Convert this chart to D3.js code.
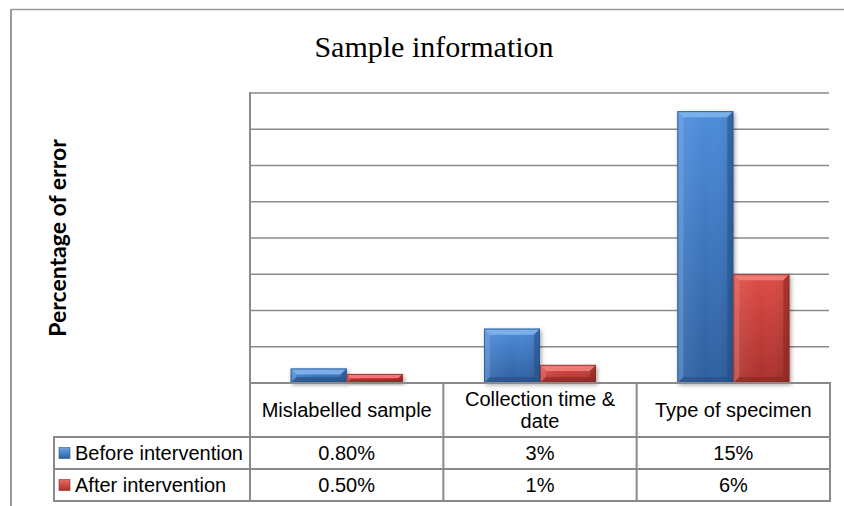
<!DOCTYPE html>
<html>
<head>
<meta charset="utf-8">
<script src="https://cdn.jsdelivr.net/npm/d3@7"></script>
<style>
  html, body { margin: 0; padding: 0; background: #fff; }
  svg { display: block; }
</style>
</head>
<body>
<svg id="chart" width="844" height="506"></svg>
<script>
// ---- data ----
const categories = ["Mislabelled sample", "Collection time & date", "Type of specimen"];
const categoryLines = [["Mislabelled sample"], ["Collection time &", "date"], ["Type of specimen"]];
const seriesNames = ["Before intervention", "After intervention"];
const beforeValues = [0.8, 3, 15];
const afterValues = [0.5, 1, 6];
const beforeLabels = ["0.80%", "3%", "15%"];
const afterLabels = ["0.50%", "1%", "6%"];
const yDomain = [0, 16];
const titleText = "Sample information";
const yTitleText = "Percentage of error";

const series = [
  { name: seriesNames[0], values: beforeValues, labels: beforeLabels, key: "blue" },
  { name: seriesNames[1], values: afterValues, labels: afterLabels, key: "red" }
];

// ---- layout ----
const W = 844, H = 506;
const plot = { left: 250, right: 830, top: 93, bottom: 383 };
const rows = { header: 437, r1: 469, r2: 501, tableLeft: 54 };
const gridColor = "#8a8a8a";
const fontSans = "'Liberation Sans', Arial, sans-serif";

const svg = d3.select("#chart");

const defs = svg.append("defs");
const palette = {
  blue: { top: "#4d8ddc", bottom: "#2d5f9f", light: "#82b5f0", dark: "#244f86", edge: "#2a5489", key: ["#6ea4e3", "#2d5f9f"] },
  red:  { top: "#de4c46", bottom: "#a8302c", light: "#f2837e", dark: "#8a2522", edge: "#8e2a27", key: ["#ea6b66", "#a8302c"] }
};
Object.entries(palette).forEach(([k, p]) => {
  const g = defs.append("linearGradient").attr("id", "grad-" + k)
    .attr("x1", 0).attr("y1", 0).attr("x2", 0).attr("y2", 1);
  g.append("stop").attr("offset", "0%").attr("stop-color", p.top);
  g.append("stop").attr("offset", "100%").attr("stop-color", p.bottom);
  const gh = defs.append("linearGradient").attr("id", "hgrad-" + k)
    .attr("x1", 0).attr("y1", 0).attr("x2", 1).attr("y2", 0);
  gh.append("stop").attr("offset", "0%").attr("stop-color", "#ffffff").attr("stop-opacity", 0.10);
  gh.append("stop").attr("offset", "50%").attr("stop-color", "#ffffff").attr("stop-opacity", 0.0);
  gh.append("stop").attr("offset", "100%").attr("stop-color", "#000000").attr("stop-opacity", 0.10);
  const kg = defs.append("linearGradient").attr("id", "kgrad-" + k)
    .attr("x1", 0).attr("y1", 0).attr("x2", 0).attr("y2", 1);
  kg.append("stop").attr("offset", "0%").attr("stop-color", p.key[0]);
  kg.append("stop").attr("offset", "100%").attr("stop-color", p.key[1]);
});
const shadow = defs.append("filter").attr("id", "shadow")
  .attr("x", "-20%").attr("y", "-20%").attr("width", "150%").attr("height", "150%");
shadow.append("feDropShadow").attr("dx", 1.5).attr("dy", 2).attr("stdDeviation", 2)
  .attr("flood-color", "#000").attr("flood-opacity", 0.35);

// outer chart border (top + left)
svg.append("line").attr("x1", 11).attr("x2", W).attr("y1", 9.5).attr("y2", 9.5)
  .attr("stroke", "#9a9a9a").attr("stroke-width", 1.5);
svg.append("line").attr("x1", 11).attr("x2", 11).attr("y1", 9).attr("y2", H)
  .attr("stroke", "#9a9a9a").attr("stroke-width", 2);

// title
svg.append("text").attr("x", 434).attr("y", 57)
  .attr("text-anchor", "middle")
  .attr("font-family", "'Liberation Serif', 'Times New Roman', serif")
  .attr("font-size", 30).attr("fill", "#000").text(titleText);

// y title
svg.append("text")
  .attr("transform", `translate(66,238) rotate(-90)`)
  .attr("text-anchor", "middle")
  .attr("font-family", "Lato, 'Liberation Sans', sans-serif")
  .attr("font-weight", "bold")
  .attr("font-size", 23).attr("fill", "#000").text(yTitleText);

// scales
const x = d3.scaleBand().domain(categories).range([plot.left, plot.right]).paddingInner(0).paddingOuter(0);
const barW = 56;
const xs = d3.scaleBand().domain(seriesNames).range([-barW, barW]).padding(0);
const y = d3.scaleLinear().domain(yDomain).range([plot.bottom, plot.top]);

// gridlines
svg.append("g").selectAll("line").data(y.ticks(8).filter(d => d > 0)).join("line")
  .attr("x1", plot.left).attr("x2", plot.right - 1)
  .attr("y1", d => y(d)).attr("y2", d => y(d))
  .attr("stroke", gridColor).attr("stroke-width", 1.6);

// bars
const barG = svg.append("g");
series.forEach(s => {
  const p = palette[s.key];
  categories.forEach((c, i) => {
    const x0 = x(c) + x.bandwidth() / 2 + xs(s.name);
    const x1 = x0 + xs.bandwidth();
    const y0 = y(s.values[i]);
    const y1 = y(0);
    const h = y1 - y0;
    const b = Math.max(1, Math.min(6, h / 2.2, (x1 - x0) / 2));
    const g = barG.append("g").attr("filter", "url(#shadow)");
    g.append("rect").attr("x", x0).attr("y", y0).attr("width", x1 - x0).attr("height", h)
      .attr("fill", `url(#grad-${s.key})`);
    g.append("rect").attr("x", x0).attr("y", y0).attr("width", x1 - x0).attr("height", h)
      .attr("fill", `url(#hgrad-${s.key})`);
    const poly = pts => pts.map(p => p.join(",")).join(" ");
    g.append("polygon").attr("points", poly([[x0, y0], [x1, y0], [x1 - b, y0 + b], [x0 + b, y0 + b]]))
      .attr("fill", p.light).attr("opacity", 0.85);
    g.append("polygon").attr("points", poly([[x0, y0], [x0 + b, y0 + b], [x0 + b, y1 - b], [x0, y1]]))
      .attr("fill", p.light).attr("opacity", 0.35);
    g.append("polygon").attr("points", poly([[x1, y0], [x1, y1], [x1 - b, y1 - b], [x1 - b, y0 + b]]))
      .attr("fill", p.dark).attr("opacity", 0.55);
    g.append("polygon").attr("points", poly([[x0, y1], [x0 + b, y1 - b], [x1 - b, y1 - b], [x1, y1]]))
      .attr("fill", p.dark).attr("opacity", 0.6);
    g.append("rect").attr("x", x0 + 0.5).attr("y", y0 + 0.5).attr("width", x1 - x0 - 1).attr("height", h - 1)
      .attr("fill", "none").attr("stroke", p.edge).attr("stroke-width", 1).attr("opacity", 0.8);
  });
});

// table / axis lines
const tbl = svg.append("g").attr("stroke", gridColor).attr("stroke-width", 2).attr("fill", "none");
tbl.append("line").attr("x1", plot.left).attr("x2", plot.right + 1).attr("y1", plot.bottom).attr("y2", plot.bottom);
tbl.append("line").attr("x1", plot.left).attr("x2", plot.left).attr("y1", plot.top - 1).attr("y2", rows.r2 + 1);
categories.forEach(c => {
  const xe = x(c) + x.bandwidth();
  tbl.append("line").attr("x1", xe).attr("x2", xe).attr("y1", plot.bottom).attr("y2", rows.r2 + 1);
});
[rows.header, rows.r1, rows.r2].forEach(ry => {
  tbl.append("line").attr("x1", rows.tableLeft).attr("x2", plot.right + 1).attr("y1", ry).attr("y2", ry);
});
tbl.append("line").attr("x1", rows.tableLeft).attr("x2", rows.tableLeft).attr("y1", rows.header - 1).attr("y2", rows.r2 + 1);

// header labels
const fs = 20;
categories.forEach((c, i) => {
  const lines = categoryLines[i];
  const cx = x(c) + x.bandwidth() / 2;
  const lh = 21.5;
  const mid = (plot.bottom + rows.header) / 2;
  lines.forEach((ln, j) => {
    svg.append("text").attr("x", cx)
      .attr("y", mid + 7 + (j - (lines.length - 1) / 2) * lh)
      .attr("text-anchor", "middle").attr("font-family", fontSans)
      .attr("font-size", fs).attr("fill", "#000").text(ln);
  });
});

// data rows
const rowTops = [rows.header, rows.r1];
series.forEach((s, si) => {
  const top = rowTops[si];
  const bot = si === 0 ? rows.r1 : rows.r2;
  const cy = (top + bot) / 2;
  svg.append("rect").attr("x", 59).attr("y", cy - 5.5).attr("width", 11).attr("height", 11)
    .attr("fill", `url(#kgrad-${s.key})`).attr("stroke", palette[s.key].edge).attr("stroke-width", 0.6);
  svg.append("text").attr("x", 75).attr("y", cy + 7)
    .attr("font-family", fontSans).attr("font-size", fs).attr("fill", "#000").text(s.name);
  categories.forEach((c, i) => {
    svg.append("text").attr("x", x(c) + x.bandwidth() / 2).attr("y", cy + 7)
      .attr("text-anchor", "middle").attr("font-family", fontSans)
      .attr("font-size", fs).attr("fill", "#000").text(s.labels[i]);
  });
});
</script>
</body>
</html>
